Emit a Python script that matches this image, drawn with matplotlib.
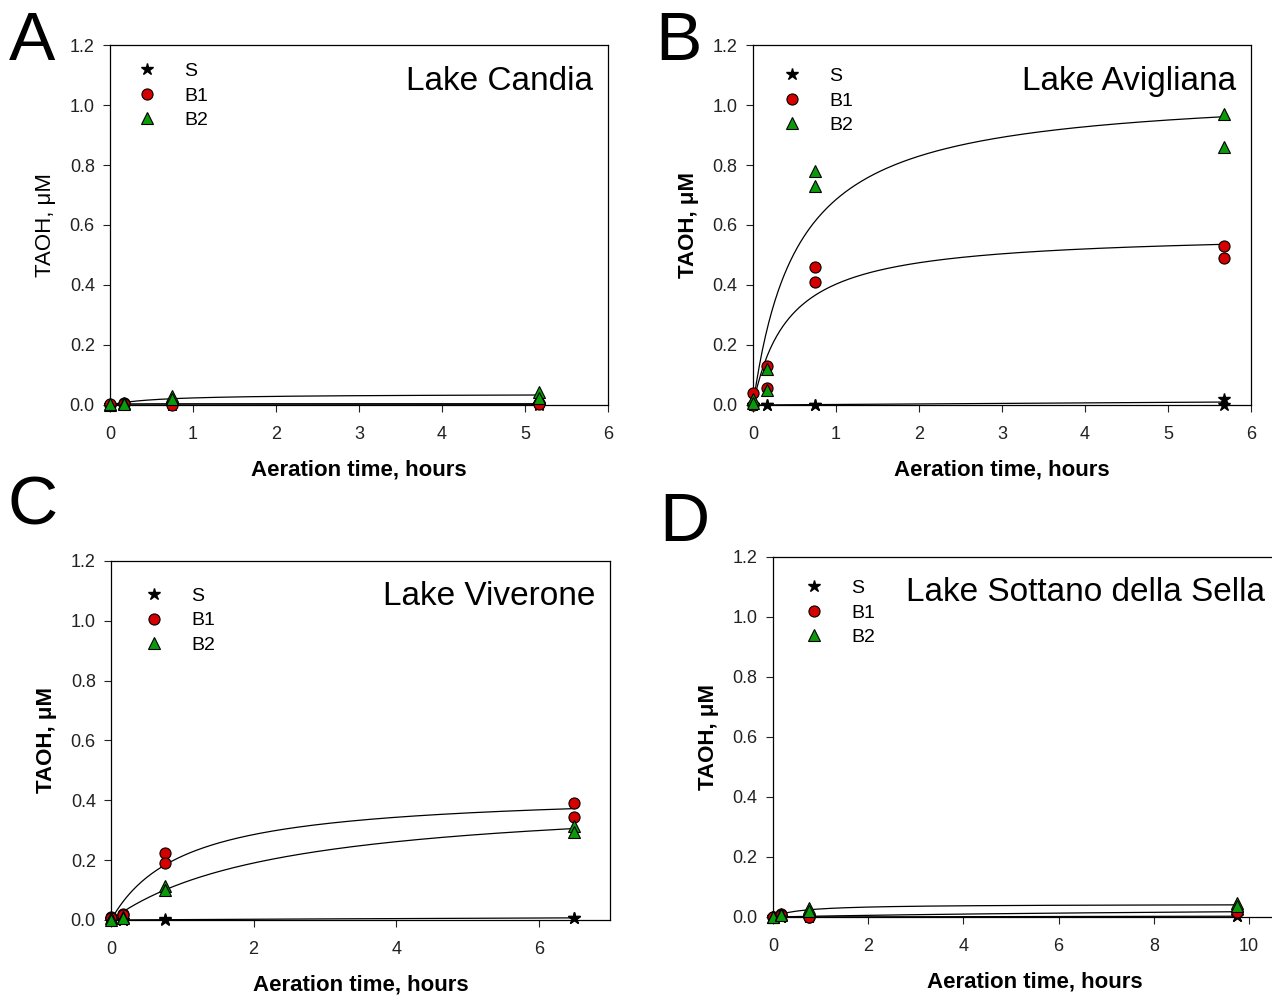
import matplotlib.pyplot as plt
import numpy as np

plt.rcParams['font.family'] = ['Liberation Sans', 'DejaVu Sans']

# sampling times (h), two replicates per time
t_candia = [0, 0, 0.17, 0.17, 0.75, 0.75, 5.17, 5.17]
s_candia = [0, 0, 0, 0, 0, 0, 0.002, 0.0]
b1_candia = [0.0, 0.003, 0.005, 0.003, 0.005, 0.0, 0.008, 0.003]
b2_candia = [0.0, 0.003, 0.005, 0.002, 0.030, 0.020, 0.042, 0.022]

t_avig = [0, 0, 0.17, 0.17, 0.75, 0.75, 5.67, 5.67]
s_avig = [0, 0, 0, 0, 0, 0, 0.02, 0.0]
b1_avig = [0.04, 0.0, 0.13, 0.055, 0.46, 0.41, 0.53, 0.49]
b2_avig = [0.02, 0.005, 0.12, 0.05, 0.78, 0.73, 0.97, 0.86]

t_viv = [0, 0, 0.17, 0.17, 0.75, 0.75, 6.5, 6.5]
s_viv = [0, 0, 0, 0, 0.002, 0, 0.008, 0.006]
b1_viv = [0.01, 0.005, 0.02, 0.015, 0.225, 0.19, 0.39, 0.345]
b2_viv = [0.005, 0.0, 0.01, 0.005, 0.115, 0.10, 0.315, 0.295]

t_sella = [0, 0, 0.17, 0.17, 0.75, 0.75, 9.75, 9.75]
s_sella = [0, 0, 0, 0, 0, 0, 0.003, 0.002]
b1_sella = [0.0, 0.0, 0.01, 0.008, 0.0, 0.0, 0.02, 0.015]
b2_sella = [0.0, 0.0, 0.01, 0.006, 0.03, 0.02, 0.045, 0.035]


def hyper_fit(x, y):
    # y = a*x/(b+x), grid over b, least squares for a
    x = np.asarray(x, float)
    y = np.asarray(y, float)
    best = None
    for b in np.logspace(-3, 2, 2000):
        g = x / (b + x)
        a = np.sum(y * g) / np.sum(g * g)
        err = np.sum((y - a * g) ** 2)
        if best is None or err < best[0]:
            best = (err, a, b)
    return best[1], best[2]


def panel(ax, t, s, b1, b2, xmax, xticks, title, title_x=0.97, bold_y=True,
          leg_at=(0.0, 1.0)):
    xx = np.linspace(0, max(t), 300)
    for y in (s, b1, b2):
        a, b = hyper_fit(t, y)
        ax.plot(xx, a * xx / (b + xx), color='black', lw=0.9, zorder=2)
    ax.plot(t, s, ls='none', marker='*', ms=9, color='black', label='S',
            clip_on=False, zorder=3)
    ax.plot(t, b1, ls='none', marker='o', ms=8, mfc='#d40000', mec='black',
            mew=0.8, label='B1', clip_on=False, zorder=3)
    ax.plot(t, b2, ls='none', marker='^', ms=8, mfc='#0a9a0a', mec='black',
            mew=0.8, label='B2', clip_on=False, zorder=3)
    ax.set_xlim(0, xmax)
    ax.set_ylim(0, 1.2)
    ax.set_xticks(xticks)
    ax.set_yticks(np.arange(0, 1.21, 0.2))
    ax.set_yticklabels(['%.1f' % v for v in np.arange(0, 1.21, 0.2)])
    ax.tick_params(labelsize=13, length=5, width=0.8, colors='#222222',
                   labelcolor='#222222')
    ax.tick_params(axis='x', pad=10)
    ax.tick_params(axis='y', pad=6)
    for sp in ax.spines.values():
        sp.set_linewidth(0.9)
    ax.set_xlabel('Aeration time, hours', fontsize=16, fontweight='bold',
                  labelpad=12)
    ax.set_ylabel('TAOH, μM', fontsize=16,
                  fontweight='bold' if bold_y else 'normal', labelpad=10)
    ax.legend(loc='upper left', frameon=False, fontsize=14,
              handletextpad=0.9, labelspacing=0.35, borderaxespad=0.5,
              bbox_to_anchor=leg_at)
    ax.text(title_x, 0.9, title, transform=ax.transAxes, ha='right',
            va='center', fontsize=24)


fig = plt.figure(figsize=(12.72, 9.98), dpi=100)

axA = fig.add_axes([0.0865, 0.5942, 0.3915, 0.3607])
panel(axA, t_candia, s_candia, b1_candia, b2_candia, 6, range(7),
      'Lake Candia', bold_y=False)

axB = fig.add_axes([0.592, 0.5942, 0.3915, 0.3607])
panel(axB, t_avig, s_avig, b1_avig, b2_avig, 6, range(7), 'Lake Avigliana',
      leg_at=(0.004, 0.986))

axC = fig.add_axes([0.0873, 0.0782, 0.3923, 0.3597])
panel(axC, t_viv, s_viv, b1_viv, b2_viv, 7, [0, 2, 4, 6], 'Lake Viverone',
      leg_at=(0.012, 0.975))

axD = fig.add_axes([0.6077, 0.0812, 0.4116, 0.3607])
panel(axD, t_sella, s_sella, b1_sella, b2_sella, 11, [0, 2, 4, 6, 8, 10],
      'Lake Sottano della Sella', title_x=0.94, leg_at=(0.008, 0.986))

for lab, x, y in [('A', 0.007, 0.99), ('B', 0.515, 0.99),
                  ('C', 0.006, 0.525), ('D', 0.518, 0.508)]:
    fig.text(x, y, lab, fontsize=50, ha='left', va='top')

plt.savefig('out.png', dpi=100)
